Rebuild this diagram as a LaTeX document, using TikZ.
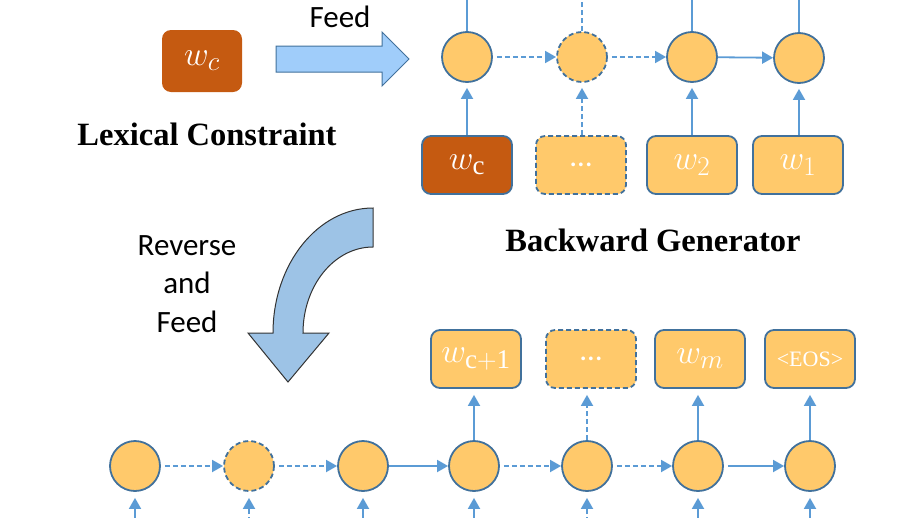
\RequirePackage{fix-cm}
\documentclass[tikz,border=0pt]{standalone}
\usepackage{fontspec}
\setmainfont{Liberation Serif}
\newfontfamily\calibrifont{Carlito}
\usepackage{xcolor}
\usetikzlibrary{arrows.meta}
\DeclareMathSizes{34}{34}{27}{22}
\definecolor{cellfill}{RGB}{255,201,107}
\definecolor{celledge}{RGB}{65,113,156}
\definecolor{flowblue}{RGB}{91,155,213}
\definecolor{keyfill}{RGB}{197,90,17}
\definecolor{feedfill}{RGB}{160,205,250}
\definecolor{bendfill}{RGB}{157,195,230}

\begin{document}
\begin{tikzpicture}[
			     x=1pt, y=-1pt,
			     cell/.style={circle, draw=celledge, fill=cellfill, line width=1.8pt, minimum size=50pt, inner sep=0pt},
			     word/.style={rectangle, rounded corners=9pt, draw=celledge, fill=cellfill, line width=1.8pt, minimum width=90pt, minimum height=58pt, inner sep=0pt, text=white, font=\fontsize{34}{38}\selectfont},
			     keyword/.style={word, fill=keyfill},
			     gap/.style={dash pattern=on 5pt off 3pt},
			     flow/.style={-{Triangle[width=12pt,length=11pt]}, draw=flowblue, line width=1.8pt},
			     stem/.style={draw=flowblue, line width=1.8pt},
			     lbl/.style={font=\calibrifont\fontsize{31}{38.5}\selectfont},
			     title/.style={font=\bfseries\fontsize{32.5}{36}\selectfont}
			     ]
\useasboundingbox (0,0) rectangle (918,517);
\clip (0,0) rectangle (918,517);
% lexical constraint
\node[keyword, draw=none, minimum width=80pt, minimum height=62pt] (lex) at (202,61) {$w_c$};
\node[title] (lextext) at (207,134) {Lexical Constraint};
\node[lbl] (feed) at (340,17) {Feed};
\draw[celledge, fill=feedfill, line width=1pt] (276,46) -- (382,46) -- (382,32) -- (409,59) -- (382,86) -- (382,72) -- (276,72) -- cycle;
% backward generator
\node[cell] (t1) at (467,57) {};
\node[cell, gap] (t2) at (582,57) {};
\node[cell] (t3) at (692,57) {};
\node[cell] (t4) at (799,58) {};
\node[keyword] (x1) at (467,165) {$w_{\mathrm{c}}$};
\node[word, gap] (x2) at (581,165) {\calibrifont\fontsize{31}{36}\selectfont …};
\node[word] (x3) at (692,165) {$w_2$};
\node[word] (x4) at (798,165) {$w_1$};
\node[title] (bwd) at (653,240) {Backward Generator};
\coordinate (t1up) at (467,-10);
\coordinate (t2up) at (582,-10);
\coordinate (t3up) at (692,-10);
\coordinate (t4up) at (799,-10);
\path (t1) edge[stem] (t1up);
\path (t2) edge[stem, gap] (t2up);
\path (t3) edge[stem] (t3up);
\path (t4) edge[stem] (t4up);
\path (x1) edge[flow, shorten >=5pt] (t1);
\path (t2 |- x2.north) edge[flow, gap, shorten >=5pt] (t2);
\path (x3) edge[flow, shorten >=5pt] (t3);
\path (t4 |- x4.north) edge[flow, shorten >=5pt] (t4);
\path (t1) edge[flow, gap, shorten <=4pt] (t2);
\path (t2) edge[flow, gap, shorten <=4pt] (t3);
\path (t3) edge[flow] (t4);
% reverse and feed
\node[lbl, align=center] (rev) at (187,284) {Reverse\\and\\Feed};
\draw[black!80, fill=bendfill, line width=1pt] (373,208) .. controls (317.8,208) and (273,264) .. (273,333)
  -- (248,333) -- (288,382) -- (329,333) -- (303,333)
  .. controls (303,285.5) and (334.4,247) .. (373,247) -- cycle;
% forward generator
\node[cell] (b1) at (135,466) {};
\node[cell, gap] (b2) at (249,466) {};
\node[cell] (b3) at (363,466) {};
\node[cell] (b4) at (474,466) {};
\node[cell] (b5) at (587,466) {};
\node[cell] (b6) at (698,466) {};
\node[cell] (b7) at (810,466) {};
\node[word] (y4) at (476,359) {$w_{\mathrm{c+1}}$};
\node[word, gap] (y5) at (591,359) {\calibrifont\fontsize{31}{36}\selectfont …};
\node[word] (y6) at (700,359) {$w_m$};
\node[word] (y7) at (810,359) {\fontsize{22}{26}\selectfont <EOS>};
\path (b1) edge[flow, gap, shorten <=4pt] (b2);
\path (b2) edge[flow, gap, shorten <=4pt] (b3);
\path (b3) edge[flow] (b4);
\path (b4) edge[flow, gap, shorten <=4pt] (b5);
\path (b5) edge[flow, gap, shorten <=4pt] (b6);
\path (b6) edge[flow, shorten <=4pt] (b7);
\path (b4) edge[flow, shorten >=6pt] (b4 |- y4.south);
\path (b5) edge[flow, gap, shorten >=6pt] (b5 |- y5.south);
\path (b6) edge[flow, shorten >=6pt] (b6 |- y6.south);
\path (b7) edge[flow, shorten >=6pt] (y7);
\coordinate (b1in) at (135,530);
\coordinate (b2in) at (249,530);
\coordinate (b3in) at (363,530);
\coordinate (b4in) at (474,530);
\coordinate (b5in) at (587,530);
\coordinate (b6in) at (698,530);
\coordinate (b7in) at (810,530);
\path (b1in) edge[flow, shorten >=6pt] (b1);
\path (b2in) edge[flow, gap, shorten >=6pt] (b2);
\path (b3in) edge[flow, shorten >=6pt] (b3);
\path (b4in) edge[flow, shorten >=6pt] (b4);
\path (b5in) edge[flow, gap, shorten >=6pt] (b5);
\path (b6in) edge[flow, shorten >=6pt] (b6);
\path (b7in) edge[flow, shorten >=6pt] (b7);
\end{tikzpicture}
\end{document}
